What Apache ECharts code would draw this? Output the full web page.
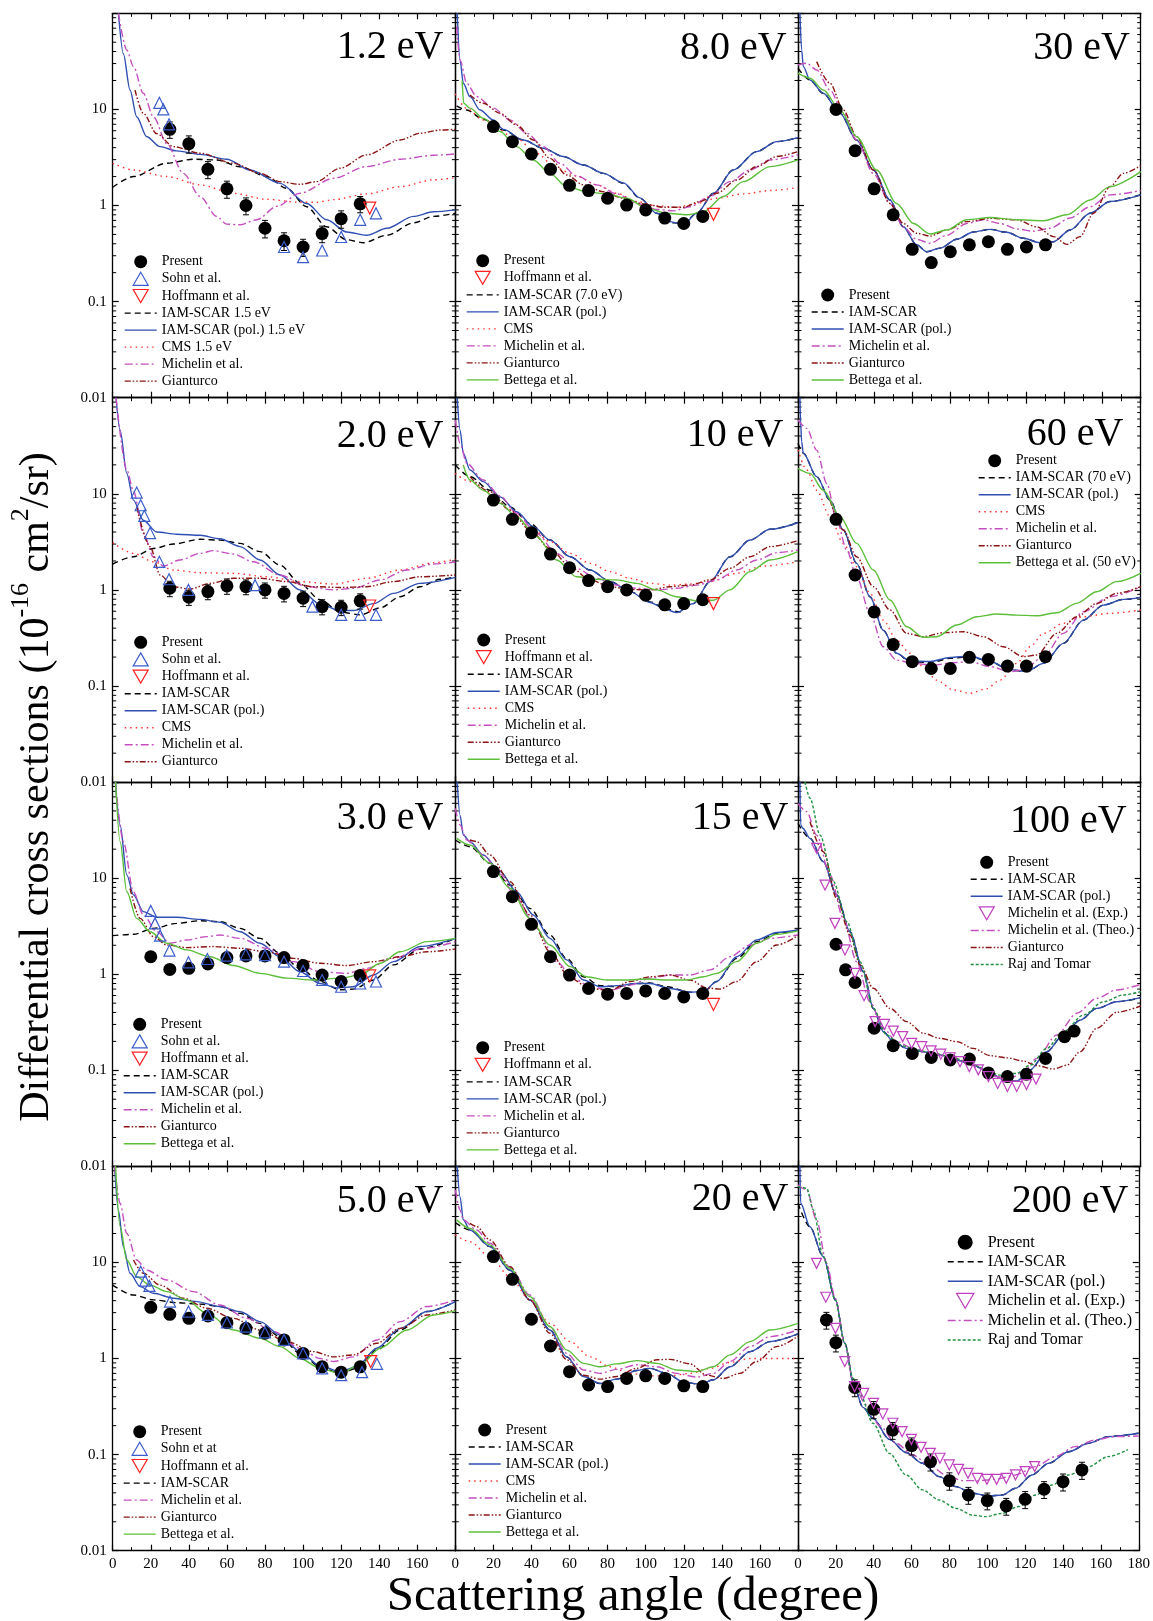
<!DOCTYPE html>
<html><head><meta charset="utf-8">
<script src="https://cdn.jsdelivr.net/npm/echarts@6/dist/echarts.min.js"></script>
<style>html,body{margin:0;padding:0;background:#fff}#c{width:1153px;height:1621px}</style>
</head><body><div id="c"></div>
<script>
// ================= DATA (angle in degrees, DCS in 1e-16 cm^2/sr) =================
const X_TICKS = [0,20,40,60,80,100,120,140,160,180];
const Y_TICK_VALUES = [0.01,0.1,1,10,100];
const Y_TICK_TEXT = ['0.01','0.1','1','10',''];

// ---- 1.2 eV ----
const e1p2_present = [[30,6.2],[40,4.4],[50,2.38],[60,1.49],[70,1.0],[80,0.58],[90,0.43],[100,0.37],[110,0.51],[120,0.73],[130,1.04]];
const e1p2_err = [1.2,0.9,0.48,0.3,0.2,0.12,0.09,0.075,0.1,0.15,0.2];
const e1p2_sohn = [[24.5,11.7],[26.6,10],[29.6,7.0],[90,0.37],[100,0.29],[110,0.34],[120,0.47],[130,0.71],[138.3,0.83]];
const e1p2_hoff = [[135,0.94]];
const e1p2_iam = [[0,1.55],[10.9,2.0],[28.4,2.75],[42.4,3.03],[54.6,2.98],[66.9,2.53],[80.9,2.0],[91.4,1.51],[101.9,0.97],[112.4,0.60],[122.9,0.44],[131.7,0.41],[144,0.49],[158,0.66],[168.5,0.77],[180,0.83]];
const e1p2_pol = [[3,100],[5.6,38],[9.1,15.9],[12.6,8.4],[17.9,5.2],[24.9,4.1],[33.6,3.7],[45.9,3.4],[59.9,3.03],[72.2,2.34],[87.9,1.70],[101.9,1.05],[112.4,0.71],[122.9,0.53],[133.4,0.49],[144,0.58],[158,0.77],[168.5,0.86],[180,0.90]];
const e1p2_cms = [[0,2.75],[10.9,2.34],[28.4,2.0],[45.9,1.64],[63.4,1.34],[80.9,1.16],[98.4,1.08],[107,1.08],[116,1.15],[133.4,1.32],[151,1.57],[168.5,1.85],[180,1.95]];
const e1p2_mich = [[3,100],[7.4,41.5],[10.9,27.9],[16.1,14.7],[21.4,8.4],[28.4,4.4],[37.1,2.16],[45.9,1.24],[54.6,0.77],[59.9,0.64],[66.9,0.63],[75.7,0.71],[86.2,0.98],[98.4,1.34],[116,1.92],[133.4,2.54],[151,3.03],[168.5,3.33],[180,3.44]];
const e1p2_gian = [[11.7,15.9],[16.1,9.1],[23.1,5.6],[31.9,4.1],[45.9,3.5],[63.4,2.75],[77.4,2.16],[87.9,1.77],[98.4,1.66],[107,1.77],[119.4,2.44],[133.4,3.36],[151,4.8],[161.5,5.64],[172,6.1],[180,6.2]];

// ---- 2.0 eV ----
const e2p0_present = [[30,1.04],[40,0.84],[50,0.96],[60,1.10],[70,1.08],[80,1.0],[90,0.92],[100,0.82],[110,0.67],[120,0.66],[130,0.77]];
const e2p0_err = [0.19,0.15,0.17,0.2,0.19,0.18,0.17,0.15,0.12,0.12,0.14];
const e2p0_sohn = [[12.6,10.3],[14.7,7.6],[16.6,5.9],[19.6,3.9],[24.5,1.96],[29.6,1.29],[39.8,1.0],[74.8,1.12],[104.9,0.67],[120,0.55],[130,0.55],[138.3,0.55]];
const e2p0_hoff = [[135,0.68]];
const e2p0_iam = [[0,1.86],[10.9,2.21],[21.4,2.7],[31.9,3.0],[45.9,3.36],[56.4,3.3],[66.9,3.05],[77.4,2.5],[87.9,1.81],[98.4,1.17],[108.9,0.79],[119.4,0.59],[130,0.55],[140.5,0.65],[151,0.85],[161.5,1.08],[172,1.29],[180,1.37]];
const e2p0_pol = [[1.75,100],[3.9,46],[7.4,16.3],[10.9,8.6],[16.1,5.3],[23.1,4.0],[33.6,3.8],[45.9,3.7],[56.4,3.4],[66.9,2.82],[77.4,2.05],[87.9,1.43],[98.4,1.0],[108.9,0.71],[119.4,0.61],[126.4,0.61],[137,0.72],[147.5,0.92],[161.5,1.17],[180,1.35]];
const e2p0_cms = [[0,3.1],[10.9,2.4],[21.4,1.96],[31.9,1.61],[45.9,1.51],[63.4,1.49],[80.9,1.37],[98.4,1.22],[116,1.15],[133.4,1.32],[151,1.61],[168.5,1.92],[180,2.08]];
const e2p0_mich = [[1.75,100],[7.4,17.7],[10.9,10.7],[16.1,3.87],[21.4,2.21],[26.6,1.77],[35.4,2.05],[45.9,2.4],[52.9,2.56],[63.4,2.36],[73.9,1.96],[87.9,1.43],[101.9,1.08],[116,1.0],[126.4,1.04],[140.5,1.27],[154.5,1.61],[168.5,1.86],[180,1.95]];
const e2p0_gian = [[12.6,7.3],[19.6,2.82],[24.9,1.43],[31.9,1.08],[40.6,1.02],[51.1,1.17],[63.4,1.32],[77.4,1.32],[91.4,1.22],[105.4,1.08],[119.4,1.06],[133.4,1.08],[147.5,1.22],[161.5,1.37],[180,1.43]];

// ---- 3.0 eV ----
const e3p0_present = [[20,1.52],[30,1.12],[40,1.15],[50,1.28],[60,1.49],[70,1.55],[80,1.55],[90,1.49],[100,1.23],[110,0.98],[120,0.84],[130,0.97]];
const e3p0_sohn = [[20,4.55],[22.2,3.38],[24.9,2.52],[29.8,1.76],[39.8,1.33],[49.7,1.44],[59.9,1.56],[69.9,1.61],[80,1.58],[90,1.35],[100,1.08],[110,0.87],[120,0.74],[130,0.80],[138.3,0.84]];
const e3p0_hoff = [[135,0.96]];
const e3p0_iam = [[0,2.52],[10.9,2.6],[21.4,3.0],[33.6,3.38],[45.9,3.6],[56.4,3.52],[66.9,3.0],[77.4,2.36],[87.9,1.65],[98.4,1.15],[108.9,0.84],[119.4,0.69],[126.4,0.70],[137,0.87],[147.5,1.25],[161.5,1.83],[180,2.36]];
const e3p0_pol = [[1.4,100],[3.9,35.7],[7.4,10.8],[10.9,6.7],[16.1,4.48],[23.1,3.91],[33.6,3.91],[45.9,3.72],[56.4,3.47],[66.9,2.77],[77.4,2.1],[87.9,1.52],[98.4,1.06],[108.9,0.80],[117.7,0.72],[126.4,0.74],[137,0.98],[147.5,1.35],[161.5,1.94],[180,2.36]];
const e3p0_mich = [[1.4,100],[5.6,23.9],[10.9,7.2],[16.1,4.13],[23.1,2.77],[30.1,2.1],[38.9,2.27],[49.4,2.46],[56.4,2.56],[66.9,2.36],[80.9,1.86],[94.9,1.35],[108.9,1.06],[122.9,1.02],[133.4,1.15],[147.5,1.46],[161.5,1.83],[180,2.18]];
const e3p0_gian = [[9.1,7.8],[14.4,3.81],[21.4,2.46],[28.4,2.01],[38.9,1.89],[52.9,1.94],[66.9,1.86],[80.9,1.71],[94.9,1.46],[108.9,1.3],[122.9,1.23],[137,1.35],[151,1.52],[165,1.71],[180,1.83]];
const e3p0_bett = [[1.5,100],[3.9,23.9],[7.4,7.2],[12.6,3.81],[19.6,2.77],[28.4,2.1],[38.9,1.79],[51.1,1.52],[63.4,1.23],[77.4,1.02],[91.4,0.91],[105.4,0.87],[119.4,0.91],[130,0.98],[140.5,1.3],[151,1.71],[165,2.18],[180,2.36]];

// ---- 5.0 eV ----
const e5p0_present = [[20,3.41],[30,2.88],[40,2.62],[50,2.77],[60,2.36],[70,2.06],[80,1.83],[90,1.56],[100,1.13],[110,0.82],[120,0.72],[130,0.82]];
const e5p0_sohn = [[14.7,8.0],[17,6.46],[19.3,5.69],[30.1,3.91],[39.8,3.08],[50,2.84],[60,2.37],[70,2.15],[80,1.87],[90,1.56],[100,1.13],[110,0.79],[120,0.67],[131,0.72],[138.8,0.88]];
const e5p0_hoff = [[135.5,0.93]];
const e5p0_iam = [[0,5.8],[10.9,4.58],[21.4,4.07],[33.6,3.81],[45.9,3.69],[56.4,3.47],[66.9,2.95],[77.4,2.32],[87.9,1.69],[98.4,1.13],[108.9,0.82],[119.4,0.70],[128.1,0.79],[138.7,1.23],[151,1.98],[165,3.08],[180,3.91]];
const e5p0_pol = [[1,100],[3,35],[5.6,14.6],[9.1,7.7],[14.4,5.6],[21.4,4.77],[31.9,4.24],[44.2,3.91],[56.4,3.47],[66.9,3.07],[77.4,2.42],[87.9,1.76],[98.4,1.18],[108.9,0.84],[119.4,0.73],[128.1,0.82],[138.7,1.28],[151,2.06],[165,3.08],[180,3.91]];
const e5p0_mich = [[1,100],[3.9,41],[7.4,20],[12.6,10.6],[17.9,8.3],[28.4,6.56],[42.4,4.97],[56.4,3.6],[70.4,2.62],[84.5,1.91],[98.4,1.28],[108.9,1.0],[116,0.93],[126.4,1.04],[138.7,1.56],[151,2.42],[165,3.47],[180,4.07]];
const e5p0_gian = [[10.9,10.6],[16.1,7.7],[24.9,5.8],[37.1,4.24],[49.4,3.33],[63.4,2.62],[77.4,1.98],[91.4,1.5],[105.4,1.18],[116,1.04],[126.4,1.09],[138.7,1.44],[151,2.06],[165,2.84],[180,3.2]];
const e5p0_bett = [[1.5,100],[3.9,23.5],[7.4,10.6],[12.6,7.1],[19.6,5.8],[28.4,4.97],[38.9,4.07],[49.4,2.95],[63.4,1.98],[77.4,1.62],[87.9,1.33],[98.4,1.0],[108.9,0.79],[119.4,0.70],[130,0.86],[140.5,1.28],[154.5,1.98],[168.5,2.84],[180,3.15]];

// ---- 8.0 eV ----
const e8p0_present = [[20,6.62],[30,4.62],[40,3.44],[50,2.38],[60,1.62],[70,1.43],[80,1.19],[90,1.01],[100,0.90],[110,0.74],[120,0.65],[130,0.77]];
const e8p0_hoff = [[135.6,0.81]];
const e8p0_iam = [[0.7,10.9],[6,9.86],[14.7,7.9],[25.2,6.1],[35.7,4.8],[46.2,3.94],[56.7,3.23],[67.3,2.64],[77.8,2.16],[88.3,1.7],[97,1.19],[105.8,0.83],[114.5,0.66],[119.8,0.65],[126.8,0.83],[135.6,1.34],[146,2.34],[158.3,3.64],[168.8,4.62],[180,5.08]];
const e8p0_pol = [[1,100],[2.5,32.6],[4.2,18.7],[7.7,13.6],[13,9.86],[20,7.76],[25.2,6.2],[35.7,4.8],[46.2,3.94],[56.7,3.23],[67.3,2.64],[77.8,2.16],[88.3,1.72],[97,1.2],[105.8,0.83],[112.8,0.68],[119.8,0.63],[126.8,0.83],[135.6,1.34],[146,2.34],[158.3,3.64],[168.8,4.62],[180,5.08]];
const e8p0_cms = [[0,14.5],[6,10.2],[14.7,7.76],[32.2,5.0],[42.7,3.49],[53.2,2.44],[63.7,2.03],[74.3,1.64],[84.8,1.34],[95.3,1.1],[105.8,0.99],[116.3,0.96],[126.8,1.05],[137.3,1.19],[151.3,1.32],[165.3,1.43],[180,1.54]];
const e8p0_mich = [[0.7,72.7],[2.5,32.6],[6,18.7],[11.2,13.6],[20,10.3],[28.7,7.76],[37.5,5.64],[46.2,4.1],[55,2.75],[63.7,2.03],[74.3,1.64],[84.8,1.32],[95.3,1.05],[105.8,0.91],[114.5,0.88],[123.3,0.97],[133.8,1.24],[144.3,1.77],[154.8,2.34],[165.3,2.98],[180,3.36]];
const e8p0_gian = [[7.7,14.1],[14.7,11.6],[23.5,9.1],[32.2,6.88],[41,4.8],[49.7,3.1],[58.5,2.08],[67.3,1.64],[77.8,1.39],[88.3,1.19],[98.8,1.04],[109.3,0.96],[119.8,0.96],[128.5,1.1],[137.3,1.34],[147.8,1.84],[158.3,2.54],[168.8,3.23],[180,3.64]];
const e8p0_bett = [[3.6,20],[4.4,11.6],[7.7,10.3],[14.7,8.1],[23.5,5.88],[32.2,4.1],[41,2.98],[49.7,2.16],[58.5,1.57],[69,1.39],[79.5,1.32],[90,1.19],[100.5,0.94],[111,0.83],[121.5,0.80],[130.3,0.86],[140.8,1.24],[151.3,1.77],[165.3,2.54],[180,2.98]];

// ---- 10 eV ----
const e10_present = [[20,8.6],[30,5.42],[40,3.94],[50,2.36],[60,1.70],[70,1.25],[80,1.08],[90,1.0],[100,0.88],[110,0.70],[120,0.72],[130,0.79]];
const e10_hoff = [[135.6,0.72]];
const e10_iam = [[0,19.9],[7.7,15.1],[18.2,10.9],[28.7,7.3],[39.2,4.92],[49.7,3.3],[60.3,2.21],[70.8,1.61],[81.3,1.22],[91.8,0.96],[102.3,0.75],[111,0.63],[118,0.59],[125,0.72],[133.8,1.22],[144.3,2.21],[154.8,3.3],[165.3,4.27],[180,5.0]];
const e10_pol = [[1,100],[2.5,46],[4.2,26.4],[7.7,17.7],[14.7,13.4],[23.5,9.3],[32.2,6.5],[41,4.55],[49.7,3.3],[60.3,2.21],[70.8,1.61],[81.3,1.22],[91.8,0.96],[102.3,0.74],[111,0.62],[116.3,0.58],[125,0.72],[133.8,1.22],[144.3,2.21],[154.8,3.3],[165.3,4.27],[180,5.0]];
const e10_cms = [[0,16.3],[7.7,13.4],[18.2,10.1],[28.7,6.8],[39.2,4.55],[49.7,3.18],[60.3,2.4],[70.8,1.89],[81.3,1.55],[91.8,1.32],[102.3,1.17],[112.8,1.12],[123.3,1.15],[133.8,1.22],[147.8,1.49],[161.8,1.77],[180,1.96]];
const e10_mich = [[0,58.6],[2.5,33.5],[6,20.8],[14.7,13.9],[23.5,9.5],[32.2,6.27],[42.7,3.87],[53.2,2.4],[63.7,1.67],[74.3,1.32],[84.8,1.12],[95.3,1.04],[105.8,1.0],[116.3,1.04],[126.8,1.12],[137.3,1.27],[147.8,1.61],[158.3,2.05],[168.8,2.44],[180,2.6]];
const e10_gian = [[7.7,15.1],[18.2,10.5],[28.7,6.78],[39.2,4.2],[49.7,2.7],[60.3,1.74],[70.8,1.27],[81.3,1.08],[91.8,1.01],[102.3,1.0],[112.8,1.08],[123.3,1.12],[133.8,1.27],[144.3,1.68],[154.8,2.21],[165.3,2.82],[180,3.25]];
const e10_bett = [[4.2,19.9],[7.7,13.9],[14.7,10.9],[23.5,7.95],[32.2,5.78],[42.7,3.58],[53.2,2.05],[63.7,1.37],[74.3,1.29],[84.8,1.27],[95.3,1.17],[105.8,1.0],[116.3,0.85],[126.8,0.77],[135.6,0.78],[144.3,1.0],[154.8,1.55],[165.3,2.05],[180,2.5]];

// ---- 15 eV ----
const e15_present = [[20,11.7],[30,6.41],[40,3.3],[50,1.52],[60,0.98],[70,0.71],[80,0.62],[90,0.63],[100,0.67],[110,0.63],[120,0.58],[130,0.63]];
const e15_hoff = [[135.6,0.485]];
const e15_iam = [[0,24.9],[7.7,21.2],[18.2,14.3],[28.7,8.47],[39.2,4.84],[49.7,2.56],[58.5,1.46],[67.3,0.94],[76,0.76],[84.8,0.74],[95.3,0.80],[102.3,0.81],[111,0.74],[123.3,0.65],[130.3,0.65],[137.3,0.84],[147.8,1.46],[158.3,2.18],[168.8,2.66],[180,2.88]];
const e15_pol = [[1,100],[2.5,45],[4.2,28.1],[7.7,23.9],[14.7,17.4],[23.5,11.7],[32.2,7.2],[41,4.13],[49.7,2.36],[58.5,1.41],[67.3,0.87],[76,0.74],[84.8,0.76],[95.3,0.80],[102.3,0.80],[112.8,0.71],[123.3,0.65],[130.3,0.66],[137.3,0.84],[147.8,1.52],[158.3,2.27],[168.8,2.72],[180,2.88]];
const e15_mich = [[0,53],[2.5,35.7],[6,24.9],[14.7,17.4],[23.5,11.0],[32.2,6.17],[42.7,3.0],[53.2,1.35],[62,0.91],[70.8,0.74],[81.3,0.68],[91.8,0.77],[102.3,0.91],[112.8,0.98],[123.3,0.98],[133.8,1.11],[144.3,1.52],[154.8,2.01],[165.3,2.36],[180,2.56]];
const e15_gian = [[7.7,24.9],[11.2,24],[18.2,17.4],[28.7,9.18],[39.2,4.13],[49.7,1.71],[60.3,0.91],[70.8,0.71],[81.3,0.68],[91.8,0.84],[102.3,0.94],[112.8,0.98],[123.3,0.87],[132,0.72],[139,0.70],[147.8,0.84],[158.3,1.35],[168.8,2.01],[180,2.52]];
const e15_bett = [[0.7,25.9],[7.7,22.1],[18.2,14.3],[28.7,7.83],[39.2,3.81],[49.7,2.01],[60.3,1.2],[69,0.94],[79.5,0.87],[90,0.87],[100.5,0.89],[111,0.87],[121.5,0.87],[130.3,0.94],[137.3,1.02],[147.8,1.35],[158.3,2.1],[168.8,2.6],[180,2.82]];

// ---- 20 eV ----
const e20_present = [[20,11.5],[30,6.67],[40,2.56],[50,1.35],[60,0.73],[70,0.53],[80,0.51],[90,0.62],[100,0.66],[110,0.62],[120,0.52],[130,0.51]];
const e20_iam = [[0,25.9],[7.7,21.7],[18.2,14.6],[28.7,8.3],[39.2,4.06],[49.7,1.98],[58.5,1.04],[67.3,0.65],[76,0.55],[84.8,0.61],[95.3,0.75],[102.3,0.79],[111,0.70],[119.8,0.57],[128.5,0.54],[135.6,0.60],[144.3,0.82],[154.8,1.18],[165.3,1.5],[180,1.8]];
const e20_pol = [[1,100],[2.5,48],[4.2,27.7],[7.7,21.7],[18.2,14.6],[28.7,8.3],[39.2,4.06],[49.7,1.98],[58.5,1.04],[67.3,0.65],[76,0.55],[84.8,0.61],[95.3,0.75],[102.3,0.79],[111,0.70],[119.8,0.57],[128.5,0.54],[135.6,0.60],[144.3,0.82],[154.8,1.18],[165.3,1.5],[180,1.8]];
const e20_cms = [[0,19.3],[7.7,16.4],[18.2,11.5],[28.7,7.1],[39.2,4.06],[49.7,2.32],[60.3,1.5],[70.8,1.04],[81.3,0.82],[91.8,0.70],[102.3,0.66],[112.8,0.66],[123.3,0.70],[133.8,0.79],[144.3,0.91],[154.8,1.0],[165.3,1.0],[180,1.0]];
const e20_mich = [[0,56.8],[2.5,35.2],[4.2,27.7],[11.2,21.7],[18.2,15.8],[28.7,9.0],[39.2,4.58],[49.7,2.15],[58.5,1.13],[67.3,0.76],[76,0.70],[84.8,0.77],[95.3,0.86],[105.8,0.82],[116.3,0.70],[126.8,0.64],[135.6,0.70],[144.3,0.93],[154.8,1.33],[165.3,1.69],[180,1.98]];
const e20_gian = [[7.7,25.5],[11.2,23.6],[18.2,17.1],[28.7,9.0],[39.2,4.06],[49.7,1.83],[58.5,0.97],[67.3,0.67],[76,0.61],[84.8,0.65],[95.3,0.79],[105.8,0.97],[112.8,0.98],[123.3,0.88],[132,0.67],[140.8,0.62],[149.5,0.70],[158.3,0.93],[168.8,1.33],[180,1.71]];
const e20_bett = [[0.7,27.7],[7.7,22.6],[18.2,15.2],[28.7,8.7],[39.2,4.4],[49.7,2.15],[58.5,1.23],[67.3,0.89],[76,0.82],[84.8,0.88],[95.3,0.95],[105.8,0.89],[116.3,0.76],[126.8,0.73],[135.6,0.82],[144.3,1.09],[154.8,1.5],[165.3,1.98],[180,2.32]];

// ---- 30 eV ----
const e30_present = [[20,10],[30,3.72],[40,1.49],[50,0.80],[60,0.35],[70,0.255],[80,0.33],[90,0.39],[100,0.42],[110,0.35],[120,0.37],[130,0.39]];
const e30_iam = [[0,26.8],[6.3,20.2],[13.3,14.7],[22.1,9.1],[30.8,4.8],[39.6,2.34],[48.3,1.14],[55.3,0.60],[62.3,0.39],[67.6,0.33],[74.6,0.36],[83.4,0.445],[92.1,0.53],[100.9,0.565],[109.6,0.526],[118.4,0.456],[127.1,0.41],[134.2,0.42],[142.9,0.556],[153.4,0.83],[163.9,1.1],[180,1.29]];
const e30_pol = [[1,100],[1.9,41.5],[2.8,27.9],[6.3,20.2],[13.3,14.7],[22.1,9.1],[30.8,4.8],[39.6,2.34],[48.3,1.14],[55.3,0.60],[62.3,0.39],[67.6,0.33],[74.6,0.36],[83.4,0.445],[92.1,0.53],[100.9,0.565],[109.6,0.526],[118.4,0.456],[127.1,0.41],[134.2,0.42],[142.9,0.556],[153.4,0.83],[163.9,1.1],[180,1.29]];
const e30_mich = [[0,29],[4.6,30.2],[9.8,25.7],[16.8,15.9],[23.8,9.1],[30.8,4.8],[39.6,2.16],[48.3,1.05],[55.3,0.60],[62.3,0.445],[69.4,0.405],[78.1,0.49],[88.6,0.65],[97.4,0.71],[106.1,0.65],[114.9,0.57],[123.6,0.54],[132.4,0.58],[142.9,0.74],[153.4,0.97],[163.9,1.29],[180,1.43]];
const e30_gian = [[9.8,31.4],[16.8,18.7],[23.8,9.86],[30.8,5.2],[39.6,2.34],[48.3,1.05],[55.3,0.65],[62.3,0.514],[69.4,0.48],[78.1,0.556],[88.6,0.68],[100.9,0.736],[114.9,0.71],[125.4,0.60],[134.2,0.474],[141.2,0.394],[148.2,0.474],[155.2,0.83],[163.9,1.57],[170.9,2.16],[180,2.6]];
const e30_bett = [[0,23.8],[6.3,21.1],[13.3,15.9],[22.1,9.86],[30.8,5.2],[41.3,2.34],[51.8,1.05],[60.6,0.65],[69.4,0.506],[78.1,0.556],[88.6,0.71],[100.9,0.75],[114.9,0.71],[128.9,0.695],[141.2,0.8],[153.4,1.14],[163.9,1.57],[180,2.25]];

// ---- 60 eV ----
const e60_present = [[20,5.42],[30,1.43],[40,0.59],[50,0.27],[60,0.179],[70,0.152],[80,0.152],[90,0.199],[100,0.189],[110,0.161],[120,0.161],[130,0.202]];
const e60_iam = [[0,33.5],[2.8,26.4],[9.8,15.1],[16.8,8.6],[23.8,4.2],[30.8,1.89],[37.8,0.85],[44.8,0.38],[51.8,0.219],[58.8,0.179],[69.4,0.175],[79.9,0.194],[90.4,0.202],[100.9,0.179],[111.4,0.147],[120.1,0.141],[128.9,0.172],[139.4,0.278],[149.9,0.485],[160.4,0.695],[170.9,0.796],[180,0.836]];
const e60_pol = [[1,100],[1.4,54],[1.9,34.9],[2.8,26.4],[9.8,15.1],[16.8,8.6],[23.8,4.2],[30.8,1.89],[37.8,0.85],[44.8,0.38],[51.8,0.219],[58.8,0.182],[69.4,0.18],[79.9,0.198],[90.4,0.205],[100.9,0.18],[111.4,0.148],[120.1,0.142],[128.9,0.172],[139.4,0.278],[149.9,0.485],[160.4,0.695],[170.9,0.796],[180,0.836]];
const e60_cms = [[0,28.5],[4.6,17.7],[9.8,10.9],[16.8,5.78],[23.8,3.05],[30.8,1.74],[37.8,0.92],[44.8,0.485],[51.8,0.30],[58.8,0.219],[65.8,0.159],[72.9,0.115],[81.6,0.091],[90.4,0.084],[99.1,0.094],[106.1,0.115],[114.9,0.172],[121.9,0.256],[128.9,0.353],[139.4,0.449],[149.9,0.526],[163.9,0.57],[180,0.618]];
const e60_mich = [[0,58.6],[4.6,48],[9.8,28.5],[15.1,12.8],[20.3,5.33],[25.6,2.6],[30.8,1.37],[37.8,0.57],[44.8,0.256],[51.8,0.186],[60.6,0.172],[71.1,0.165],[81.6,0.175],[90.4,0.179],[100.9,0.159],[111.4,0.141],[118.4,0.147],[128.9,0.202],[139.4,0.353],[149.9,0.593],[163.9,0.849],[180,1.08]];
const e60_gian = [[16.8,8.6],[23.8,4.2],[30.8,2.21],[39.6,1.08],[48.3,0.618],[57.1,0.353],[65.8,0.326],[76.4,0.359],[86.9,0.367],[97.4,0.326],[107.9,0.256],[118.4,0.202],[125.4,0.21],[135.9,0.353],[146.4,0.526],[156.9,0.723],[167.4,0.92],[180,1.08]];
const e60_bett = [[0,18.4],[6.3,16.3],[13.3,10.9],[22.1,5.78],[30.8,3.05],[39.6,1.61],[48.3,0.785],[57.1,0.414],[65.8,0.321],[72.9,0.326],[83.4,0.431],[93.9,0.526],[104.4,0.561],[114.9,0.547],[125.4,0.538],[135.9,0.579],[146.4,0.724],[156.9,0.957],[167.4,1.22],[180,1.49]];

// ---- 100 eV ----
const e100_present = [[20,2.05],[25,1.11],[30,0.82],[40,0.274],[50,0.18],[60,0.150],[70,0.136],[80,0.128],[90,0.131],[100,0.094],[110,0.086],[120,0.091],[130,0.133],[140,0.224],[145,0.256]];
const e100_mexp = [[9.8,20.4],[14.2,8.47],[19.4,3.38],[24.7,1.79],[29.9,1.02],[34.7,0.598],[40.5,0.321],[45.4,0.30],[50.1,0.256],[55,0.224],[59.7,0.191],[65,0.176],[69.9,0.159],[75,0.147],[79.9,0.135],[85.1,0.123],[90,0.109],[94.7,0.101],[100,0.086],[104.9,0.073],[110,0.068],[114.9,0.068],[120,0.071],[125,0.081]];
const e100_iam = [[0,37.1],[6.3,25.9],[13.3,14.8],[20.3,6.67],[27.3,2.77],[34.3,1.06],[39.6,0.44],[44.8,0.252],[50.1,0.199],[57.1,0.169],[65.8,0.156],[74.6,0.144],[83.4,0.128],[92.1,0.113],[100.9,0.093],[109.6,0.077],[114.9,0.077],[121.9,0.101],[130.6,0.156],[139.4,0.233],[148.2,0.333],[156.9,0.441],[167.4,0.517],[180,0.57]];
const e100_pol = [[1,100],[1.4,35.7],[2.5,33],[6.3,25.9],[13.3,14.8],[20.3,6.67],[27.3,2.77],[34.3,1.06],[39.6,0.44],[44.8,0.252],[50.1,0.199],[57.1,0.169],[65.8,0.156],[74.6,0.144],[83.4,0.128],[92.1,0.113],[100.9,0.093],[109.6,0.077],[114.9,0.077],[121.9,0.101],[130.6,0.156],[139.4,0.233],[148.2,0.333],[156.9,0.441],[167.4,0.517],[180,0.57]];
const e100_mth = [[0,60],[4.6,49],[9.8,28],[16.8,10.8],[23.8,3.81],[30.8,1.35],[37.8,0.517],[44.8,0.274],[51.8,0.199],[60.6,0.169],[69.4,0.15],[78.1,0.139],[86.9,0.123],[95.6,0.105],[104.4,0.086],[111.4,0.082],[118.4,0.097],[125.4,0.133],[135.9,0.233],[146.4,0.392],[156.9,0.561],[167.4,0.686],[180,0.785]];
const e100_gian = [[6.3,38.6],[13.3,18.8],[20.3,6.15],[27.3,2.56],[32.6,1.25],[39.6,0.713],[48.3,0.441],[57.1,0.321],[65.8,0.243],[74.6,0.215],[83.4,0.199],[92.1,0.169],[100.9,0.142],[109.6,0.135],[118.4,0.125],[125.4,0.112],[134.2,0.103],[141.2,0.113],[148.2,0.156],[156.9,0.274],[167.4,0.401],[180,0.467]];
const e100_raj = [[3.7,100],[6.3,67.7],[11.6,28],[18.6,9.18],[25.6,3.53],[32.6,1.35],[39.6,0.44],[46.6,0.233],[53.6,0.183],[62.3,0.163],[71.1,0.15],[79.9,0.139],[88.6,0.123],[97.4,0.105],[106.1,0.089],[114.9,0.093],[121.9,0.113],[130.6,0.169],[139.4,0.252],[149.9,0.376],[160.4,0.517],[170.9,0.608],[180,0.658]];

// ---- 200 eV ----
const e200_present = [[15,2.52],[20,1.46],[30,0.50],[40,0.296],[50,0.18],[60,0.124],[70,0.0845],[80,0.0536],[90,0.038],[100,0.0332],[110,0.0292],[120,0.0343],[130,0.0436],[140,0.0523],[150,0.0692]];
const e200_err = [0.5,0.29,0.1,0.06,0.036,0.025,0.017,0.011,0.0076,0.0066,0.0058,0.0069,0.0087,0.0105,0.014];
const e200_mexp = [[9.8,9.77],[14.7,4.34],[19.8,2.06],[24.7,0.93],[29.9,0.509],[34.7,0.434],[39.9,0.342],[44.8,0.265],[50.1,0.212],[55,0.173],[59.9,0.144],[65,0.119],[69.9,0.103],[75,0.0916],[79.9,0.078],[84.8,0.0703],[89.8,0.0639],[94.7,0.0566],[99.8,0.0553],[104.9,0.0553],[110,0.0566],[114.9,0.0614],[120,0.0665],[125,0.075]];
const e200_iam = [[0,41.2],[6.3,23.5],[13.3,11.5],[19.8,4.06],[24.7,1.44],[29.8,0.50],[34.3,0.31],[39.6,0.239],[48.3,0.144],[57.1,0.105],[65.8,0.0812],[74.6,0.059],[83.4,0.0464],[92.1,0.0396],[100.9,0.0371],[107.9,0.038],[114.9,0.0446],[123.6,0.0614],[132.4,0.0812],[142.9,0.107],[153.4,0.131],[163.9,0.154],[180,0.167]];
const e200_pol = [[1,100],[1.4,41.2],[6.3,23.5],[13.3,11.5],[19.8,4.06],[24.7,1.44],[29.8,0.50],[34.3,0.31],[39.6,0.239],[48.3,0.144],[57.1,0.105],[65.8,0.0812],[74.6,0.059],[83.4,0.0464],[92.1,0.0396],[100.9,0.0371],[107.9,0.038],[114.9,0.0446],[123.6,0.0614],[132.4,0.0812],[142.9,0.107],[153.4,0.131],[163.9,0.154],[180,0.167]];
const e200_mth = [[0,64],[4.6,56.7],[9.8,27.7],[15.1,9.77],[19.8,4.2],[24.7,1.4],[29.8,0.5],[36.1,0.33],[43.1,0.2],[51.8,0.131],[60.6,0.099],[69.4,0.078],[78.1,0.0614],[86.9,0.0536],[95.6,0.0536],[104.4,0.0553],[114.9,0.0614],[125.4,0.075],[135.9,0.0953],[146.4,0.121],[156.9,0.142],[167.4,0.154],[180,0.156]];
const e200_raj = [[0,61.5],[4.6,59],[8.1,35.2],[13.3,11.5],[19.8,4.06],[24.7,1.44],[29.1,0.62],[32.6,0.434],[39.6,0.212],[48.3,0.103],[57.1,0.0614],[65.8,0.0429],[74.6,0.0337],[83.4,0.0276],[92.1,0.0235],[99.1,0.0226],[107.9,0.0245],[116.6,0.0288],[125.4,0.038],[134.2,0.0483],[142.9,0.0614],[153.4,0.075],[163.9,0.0953],[174.4,0.113]];

// ================= LAYOUT / STYLE =================
const FONT = '"Liberation Serif", "Times New Roman", serif';
const COL_LEFT = [112.7, 455.3, 798];
const ROW_TOP = [13.3, 397.7, 782, 1166.3];
const PW = 342.7, PH = 384.4;
const ICON_UP = 'path://M5,0 L10,8.66 L0,8.66 Z';
const ICON_DOWN = 'path://M0,0 L10,0 L5,8.66 Z';

const STYLES = {
  present: {sc:true, symbol:'circle', size:13, fill:'#000', stroke:null, z:4},
  sohn:    {sc:true, symbol:'triangle', size:11, fill:'rgba(255,255,255,0)', stroke:'#3b5ccc', z:5, icon:ICON_UP},
  hoff:    {sc:true, symbol:'triangle', rot:180, size:12, fill:'rgba(255,255,255,0)', stroke:'#ff2020', z:5, icon:ICON_DOWN},
  mexp:    {sc:true, symbol:'triangle', rot:180, size:10, fill:'rgba(255,255,255,0)', stroke:'#c040c0', z:5, icon:ICON_DOWN},
  iam:  {color:'#000000', dash:[6,4]},
  pol:  {color:'#2f4fb3', dash:'solid'},
  cms:  {color:'#ff3030', dash:[1.5,4]},
  mich: {color:'#c44fbf', dash:[8,3,2,3]},
  gian: {color:'#8b1414', dash:[6,2,1.5,2,1.5,2]},
  bett: {color:'#5cbf3a', dash:'solid'},
  raj:  {color:'#1f9040', dash:[3,2]}
};

const PANELS = [
  {label:'1.2 eV', row:0, col:0, lx:443.3, ly:47.5, err:e1p2_err,
   series:[['iam',e1p2_iam,'IAM-SCAR 1.5 eV'],['pol',e1p2_pol,'IAM-SCAR (pol.) 1.5 eV'],['cms',e1p2_cms,'CMS 1.5 eV'],['mich',e1p2_mich,'Michelin et al.'],['gian',e1p2_gian,'Gianturco'],['present',e1p2_present,'Present'],['sohn',e1p2_sohn,'Sohn et al.'],['hoff',e1p2_hoff,'Hoffmann et al.']],
   legend:['Present','Sohn et al.','Hoffmann et al.','IAM-SCAR 1.5 eV','IAM-SCAR (pol.) 1.5 eV','CMS 1.5 eV','Michelin et al.','Gianturco'], lg:{left:124, top:254.7}},
  {label:'8.0 eV', row:0, col:1, lx:786.7, ly:48,
   series:[['iam',e8p0_iam,'IAM-SCAR (7.0 eV)'],['pol',e8p0_pol,'IAM-SCAR (pol.)'],['cms',e8p0_cms,'CMS'],['mich',e8p0_mich,'Michelin et al.'],['gian',e8p0_gian,'Gianturco'],['bett',e8p0_bett,'Bettega et al.'],['present',e8p0_present,'Present'],['hoff',e8p0_hoff,'Hoffmann et al.']],
   legend:['Present','Hoffmann et al.','IAM-SCAR (7.0 eV)','IAM-SCAR (pol.)','CMS','Michelin et al.','Gianturco','Bettega et al.'], lg:{left:466, top:253.7}},
  {label:'30 eV', row:0, col:2, lx:1130, ly:48,
   series:[['iam',e30_iam,'IAM-SCAR'],['pol',e30_pol,'IAM-SCAR (pol.)'],['mich',e30_mich,'Michelin et al.'],['gian',e30_gian,'Gianturco'],['bett',e30_bett,'Bettega et al.'],['present',e30_present,'Present']],
   legend:['Present','IAM-SCAR','IAM-SCAR (pol.)','Michelin et al.','Gianturco','Bettega et al.'], lg:{left:811, top:288}},
  {label:'2.0 eV', row:1, col:0, lx:443.3, ly:436.7, err:e2p0_err,
   series:[['iam',e2p0_iam,'IAM-SCAR'],['pol',e2p0_pol,'IAM-SCAR (pol.)'],['cms',e2p0_cms,'CMS'],['mich',e2p0_mich,'Michelin et al.'],['gian',e2p0_gian,'Gianturco'],['present',e2p0_present,'Present'],['sohn',e2p0_sohn,'Sohn et al.'],['hoff',e2p0_hoff,'Hoffmann et al.']],
   legend:['Present','Sohn et al.','Hoffmann et al.','IAM-SCAR','IAM-SCAR (pol.)','CMS','Michelin et al.','Gianturco'], lg:{left:124, top:635.3}},
  {label:'10 eV', row:1, col:1, lx:783.3, ly:435,
   series:[['iam',e10_iam,'IAM-SCAR'],['pol',e10_pol,'IAM-SCAR (pol.)'],['cms',e10_cms,'CMS'],['mich',e10_mich,'Michelin et al.'],['gian',e10_gian,'Gianturco'],['bett',e10_bett,'Bettega et al.'],['present',e10_present,'Present'],['hoff',e10_hoff,'Hoffmann et al.']],
   legend:['Present','Hoffmann et al.','IAM-SCAR','IAM-SCAR (pol.)','CMS','Michelin et al.','Gianturco','Bettega et al.'], lg:{left:467, top:633}},
  {label:'60 eV', row:1, col:2, lx:1123.3, ly:434,
   series:[['iam',e60_iam,'IAM-SCAR (70 eV)'],['pol',e60_pol,'IAM-SCAR (pol.)'],['cms',e60_cms,'CMS'],['mich',e60_mich,'Michelin et al.'],['gian',e60_gian,'Gianturco'],['bett',e60_bett,'Bettega et al. (50 eV)'],['present',e60_present,'Present']],
   legend:['Present','IAM-SCAR (70 eV)','IAM-SCAR (pol.)','CMS','Michelin et al.','Gianturco','Bettega et al. (50 eV)'], lg:{left:978, top:453.7}},
  {label:'3.0 eV', row:2, col:0, lx:443.3, ly:818,
   series:[['iam',e3p0_iam,'IAM-SCAR'],['pol',e3p0_pol,'IAM-SCAR (pol.)'],['mich',e3p0_mich,'Michelin et al.'],['gian',e3p0_gian,'Gianturco'],['bett',e3p0_bett,'Bettega et al.'],['present',e3p0_present,'Present'],['sohn',e3p0_sohn,'Sohn et al.'],['hoff',e3p0_hoff,'Hoffmann et al.']],
   legend:['Present','Sohn et al.','Hoffmann et al.','IAM-SCAR','IAM-SCAR (pol.)','Michelin et al.','Gianturco','Bettega et al.'], lg:{left:123, top:1017.3}},
  {label:'15 eV', row:2, col:1, lx:788.3, ly:818,
   series:[['iam',e15_iam,'IAM-SCAR'],['pol',e15_pol,'IAM-SCAR (pol.)'],['mich',e15_mich,'Michelin et al.'],['gian',e15_gian,'Gianturco'],['bett',e15_bett,'Bettega et al.'],['present',e15_present,'Present'],['hoff',e15_hoff,'Hoffmann et al.']],
   legend:['Present','Hoffmann et al.','IAM-SCAR','IAM-SCAR (pol.)','Michelin et al.','Gianturco','Bettega et al.'], lg:{left:466, top:1040.7}},
  {label:'100 eV', row:2, col:2, lx:1126.7, ly:821,
   series:[['iam',e100_iam,'IAM-SCAR'],['pol',e100_pol,'IAM-SCAR (pol.)'],['mich',e100_mth,'Michelin et al. (Theo.)'],['gian',e100_gian,'Gianturco'],['raj',e100_raj,'Raj and Tomar'],['present',e100_present,'Present'],['mexp',e100_mexp,'Michelin et al. (Exp.)']],
   legend:['Present','IAM-SCAR','IAM-SCAR (pol.)','Michelin et al. (Exp.)','Michelin et al. (Theo.)','Gianturco','Raj and Tomar'], lg:{left:970, top:855.3}},
  {label:'5.0 eV', row:3, col:0, lx:443.3, ly:1201.7,
   series:[['iam',e5p0_iam,'IAM-SCAR'],['pol',e5p0_pol,'IAM-SCAR (pol.)'],['mich',e5p0_mich,'Michelin et al.'],['gian',e5p0_gian,'Gianturco'],['bett',e5p0_bett,'Bettega et al.'],['present',e5p0_present,'Present'],['sohn',e5p0_sohn,'Sohn et at'],['hoff',e5p0_hoff,'Hoffmann et al.']],
   legend:['Present','Sohn et at','Hoffmann et al.','IAM-SCAR','Michelin et al.','Gianturco','Bettega et al.'], lg:{left:123, top:1424.7}},
  {label:'20 eV', row:3, col:1, lx:788.3, ly:1199,
   series:[['iam',e20_iam,'IAM-SCAR'],['pol',e20_pol,'IAM-SCAR (pol.)'],['cms',e20_cms,'CMS'],['mich',e20_mich,'Michelin et al.'],['gian',e20_gian,'Gianturco'],['bett',e20_bett,'Bettega et al.'],['present',e20_present,'Present']],
   legend:['Present','IAM-SCAR','IAM-SCAR (pol.)','CMS','Michelin et al.','Gianturco','Bettega et al.'], lg:{left:468, top:1423}},
  {label:'200 eV', row:3, col:2, lx:1128.3, ly:1201.7, err:e200_err, big:true,
   series:[['iam',e200_iam,'IAM-SCAR'],['pol',e200_pol,'IAM-SCAR (pol.)'],['mich',e200_mth,'Michelin et al. (Theo.)'],['raj',e200_raj,'Raj and Tomar'],['present',e200_present,'Present'],['mexp',e200_mexp,'Michelin et al. (Exp.)']],
   legend:['Present','IAM-SCAR','IAM-SCAR (pol.)','Michelin et al. (Exp.)','Michelin et al. (Theo.)','Raj and Tomar'], lg:{left:947, top:1234.3}}
];

// y-axis minor tick positions (2..9 x decade) – axis decoration only
const MINOR_Y = [];
[-2,-1,0,1].forEach(k => { for (let m = 2; m <= 9; m++) MINOR_Y.push([0, m * Math.pow(10, k)]); });

// ================= BUILD OPTION =================
const grids = [], xAxes = [], yAxes = [], series = [], legends = [], graphics = [];
const axisLineStyle = {color:'#000', width:1.3};

PANELS.forEach((p, gi) => {
  grids.push({left:COL_LEFT[p.col], top:ROW_TOP[p.row], width:PW, height:PH, show:false});
  const bottomRow = p.row === 3;
  const xCommon = {type:'value', gridIndex:gi, min:0, max:180, interval:20,
    axisLine:{show:true, onZero:false, lineStyle:axisLineStyle},
    axisTick:{show:true, inside:true, length:6, lineStyle:{color:'#000', width:1.2}},
    minorTick:{show:true, splitNumber:2, length:3.5, lineStyle:{color:'#000', width:1}},
    splitLine:{show:false}};
  xAxes.push(Object.assign({}, xCommon, {position:'bottom',
    axisLabel:{show:bottomRow, margin:6, color:'#000', fontFamily:FONT, fontSize:15,
      formatter: v => (p.col < 2 && v === 180) ? '' : String(v)}}));
  xAxes.push(Object.assign({}, xCommon, {position:'top', axisLabel:{show:false}}));
  const yCommon = {type:'log', logBase:10, gridIndex:gi, min:0.01, max:100,
    axisLine:{show:true, onZero:false, lineStyle:axisLineStyle},
    axisTick:{show:true, inside:true, length:6, lineStyle:{color:'#000', width:1.2}},
    splitLine:{show:false}};
  yAxes.push(Object.assign({}, yCommon, {position:'left',
    axisLabel:{show:p.col === 0, margin:6, color:'#000', fontFamily:FONT, fontSize:15,
      formatter: v => { const i = Math.round(Math.log10(v)) + 2; return Y_TICK_TEXT[i] !== undefined ? Y_TICK_TEXT[i] : ''; }}}));
  yAxes.push(Object.assign({}, yCommon, {position:'right', axisLabel:{show:false}}));

  const xi = gi * 2, yi = gi * 2;
  series.push({type:'custom', xAxisIndex:xi, yAxisIndex:yi, silent:true, z:1, data:MINOR_Y,
    encode:{x:0, y:1},
    renderItem:(params, api) => {
      const v = api.value(1);
      const l = api.coord([0, v]), r = api.coord([180, v]);
      return {type:'group', children:[
        {type:'line', shape:{x1:l[0], y1:l[1], x2:l[0] + 3.5, y2:l[1]}, style:{stroke:'#000', lineWidth:1}},
        {type:'line', shape:{x1:r[0] - 3.5, y1:r[1], x2:r[0], y2:r[1]}, style:{stroke:'#000', lineWidth:1}}
      ]};
    }});

  p.series.forEach(([kind, data, name]) => {
    const st = STYLES[kind];
    if (st.sc) {
      series.push({type:'scatter', name, data, xAxisIndex:xi, yAxisIndex:yi, z:st.z,
        symbol:st.symbol, symbolSize:st.size, symbolRotate:st.rot || 0,
        itemStyle: st.stroke ? {color:st.fill, borderColor:st.stroke, borderWidth:1.2, opacity:1} : {color:st.fill, opacity:1},
        emphasis:{disabled:true}});
    } else {
      series.push({type:'line', name, data, xAxisIndex:xi, yAxisIndex:yi, z:2,
        symbol:'none', showSymbol:false, smooth:0.3, smoothMonotone:'x', clip:true,
        lineStyle:{color:st.color, width:1.4, type:st.dash}, itemStyle:{color:st.color},
        emphasis:{disabled:true}});
    }
  });

  if (p.err) {
    const present = p.series.find(s => s[0] === 'present')[1];
    const ebData = present.map((pt, i) => [pt[0], pt[1] - p.err[i], pt[1] + p.err[i]]);
    series.push({type:'custom', xAxisIndex:xi, yAxisIndex:yi, silent:true, z:3, data:ebData,
      encode:{x:0, y:[1, 2]},
      renderItem:(params, api) => {
        const lo = api.coord([api.value(0), api.value(1)]);
        const hi = api.coord([api.value(0), api.value(2)]);
        const w = 3;
        return {type:'group', children:[
          {type:'line', shape:{x1:lo[0], y1:lo[1], x2:hi[0], y2:hi[1]}, style:{stroke:'#000', lineWidth:1}},
          {type:'line', shape:{x1:lo[0]-w, y1:lo[1], x2:lo[0]+w, y2:lo[1]}, style:{stroke:'#000', lineWidth:1}},
          {type:'line', shape:{x1:hi[0]-w, y1:hi[1], x2:hi[0]+w, y2:hi[1]}, style:{stroke:'#000', lineWidth:1}}
        ]};
      }});
  }

  const legendData = p.legend.map(name => {
    const kind = p.series.find(s => s[2] === name)[0];
    const st = STYLES[kind];
    if (!st.sc) return {name, itemStyle:{opacity:0}};
    if (st.icon) return {name, icon:st.icon};
    return {name, icon:'circle'};
  });
  legends.push({orient:'vertical', left:p.lg.left, top:p.lg.top, data:legendData, selectedMode:false,
    itemWidth: p.big ? 35 : 32, itemHeight: p.big ? 15 : 13, itemGap: p.big ? 3.5 : 3, padding:0,
    symbolKeepAspect:true,
    itemStyle:{borderWidth:1.2},
    lineStyle:{width:1.4},
    textStyle:{fontFamily:FONT, fontSize: p.big ? 16 : 14, color:'#000'}});

  graphics.push({type:'text', silent:true, style:{text:p.label, x:p.lx, y:p.ly, fill:'#000',
    font:'40px ' + FONT, textAlign:'right', textVerticalAlign:'middle'}});
});

graphics.push({type:'text', silent:true, x:36.5, y:787, rotation:Math.PI/2,
  style:{text:'{n|Differential cross sections (10}{s|-16}{n| cm}{s|2}{n|/sr)}',
    textAlign:'center', textVerticalAlign:'middle', fill:'#000',
    rich:{n:{fontFamily:FONT, fontSize:42, lineHeight:56, fill:'#000'},
          s:{fontFamily:FONT, fontSize:26, lineHeight:26, verticalAlign:'top', fill:'#000'}}}});
graphics.push({type:'text', silent:true, style:{text:'Scattering angle (degree)', x:633, y:1597, fill:'#000',
  font:'49px ' + FONT, textAlign:'center', textVerticalAlign:'middle'}});

const chart = echarts.init(document.getElementById('c'), null, {renderer:'canvas'});
chart.setOption({
  animation:false,
  backgroundColor:'#fff',
  textStyle:{fontFamily:FONT},
  grid:grids, xAxis:xAxes, yAxis:yAxes, series, legend:legends, graphic:graphics
});
</script>
</body></html>
